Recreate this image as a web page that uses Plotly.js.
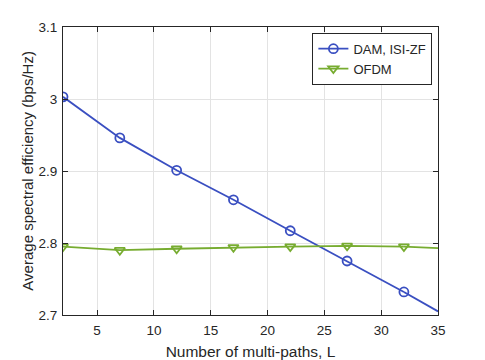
<!DOCTYPE html>
<html>
<head>
<meta charset="utf-8">
<script src="https://cdn.plot.ly/plotly-3.0.1.min.js"></script>
<style>
  body { margin: 0; background: #fff; }
  #graph { width: 485px; height: 360px; }
</style>
</head>
<body>
<div id="graph"></div>
<script>
let L = [2, 7, 12, 17, 22, 27, 32];
let damVals = [3.003, 2.946, 2.901, 2.860, 2.817, 2.775, 2.732];
let ofdmVals = [2.795, 2.790, 2.792, 2.794, 2.795, 2.796, 2.795];

// line continues to the last L without a marker
let tailL = [32, 35];
let damTail = [2.732, 2.705];
let ofdmTail = [2.795, 2.793];

let blue = '#3a4fc1';
let green = '#77ac30';

var trace1 = {
    x: L,
    y: damVals,
    name: 'DAM, ISI-ZF',
    mode: 'lines+markers',
    line: { color: blue, width: 1.8 },
    marker: { symbol: 'circle-open', size: 9, color: blue, line: { width: 1.8 } }
};

var trace2 = {
    x: L,
    y: ofdmVals,
    name: 'OFDM',
    mode: 'lines+markers',
    line: { color: green, width: 1.8 },
    marker: { symbol: 'triangle-down-open', size: 9, color: green, line: { width: 1.8 } }
};

var trace3 = {
    x: tailL, y: damTail, mode: 'lines', showlegend: false,
    line: { color: blue, width: 1.8 }
};

var trace4 = {
    x: tailL, y: ofdmTail, mode: 'lines', showlegend: false,
    line: { color: green, width: 1.8 }
};

var axisStyle = {
    showline: true,
    linecolor: '#262626',
    linewidth: 1,
    mirror: 'ticks',
    ticks: 'inside',
    ticklen: 5,
    tickcolor: '#262626',
    showgrid: true,
    gridcolor: '#e3e3e3',
    zeroline: false,
    tickfont: { size: 13.5, color: '#262626' }
};

var layout = {
    width: 485,
    height: 360,
    margin: { l: 63, r: 47, t: 27, b: 45 },
    paper_bgcolor: '#fff',
    plot_bgcolor: '#fff',
    font: { family: 'Liberation Sans, Arial, sans-serif', color: '#262626' },
    showlegend: true,
    xaxis: Object.assign({}, axisStyle, {
        range: [2, 35],
        tickvals: [5, 10, 15, 20, 25, 30, 35],
        ticklabelstandoff: 3,
        title: { text: 'Number of multi-paths, L', font: { size: 15.5 }, standoff: 8 }
    }),
    yaxis: Object.assign({}, axisStyle, {
        range: [2.7, 3.1],
        tickvals: [2.7, 2.8, 2.9, 3, 3.1],
        ticklabelstandoff: 2
    }),
    annotations: [{
        text: 'Average spectral efficiency (bps/Hz)',
        xref: 'paper', yref: 'paper',
        x: -0.097, y: 0.5,
        xanchor: 'center', yanchor: 'middle',
        textangle: -90,
        showarrow: false,
        font: { size: 15, color: '#262626' }
    }],
    legend: {
        x: 0.985,
        y: 0.98,
        xanchor: 'right',
        yanchor: 'top',
        bgcolor: '#fff',
        bordercolor: '#262626',
        borderwidth: 1,
        font: { size: 13 },
        tracegroupgap: 0,
        itemwidth: 30
    }
};

Plotly.newPlot('graph', [trace1, trace2, trace3, trace4], layout, { displayModeBar: false });
</script>
</body>
</html>
